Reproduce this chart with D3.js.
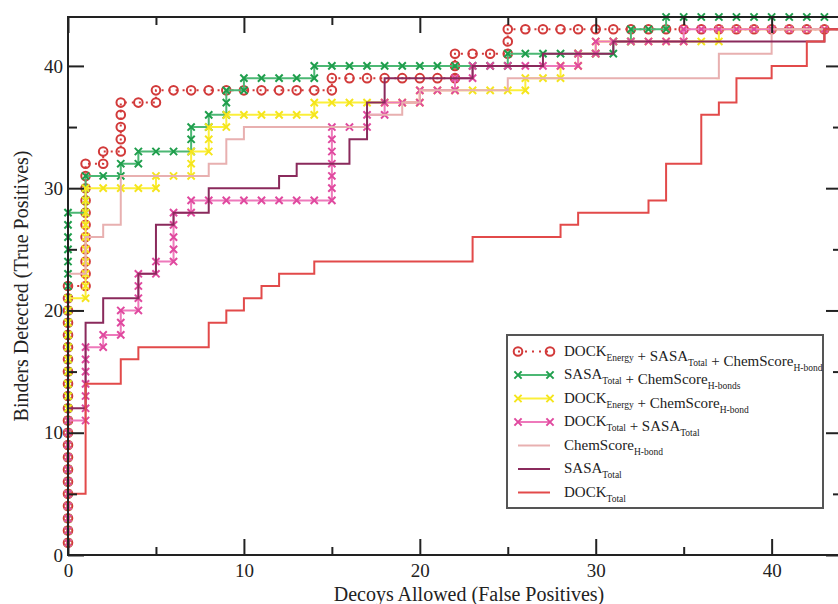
<!DOCTYPE html>
<html>
<head>
<meta charset="utf-8">
<script src="https://cdn.jsdelivr.net/npm/d3@7"></script>
<style>
  body { margin: 0; background: #fff; }
  svg { display: block; font-family: "Liberation Serif", "Times New Roman", serif; }
</style>
</head>
<body>
<div id="chart"></div>
<script>
const width = 838;
const height = 604;
const margin = { top: 17, right: -4, bottom: 49, left: 68 };

// ROC staircases, corner points [decoys, binders]
const dockSasaChem = [[0,1],[0,22],[1,22],[1,32],[2,32],[2,33],[3,33],[3,37],[5,37],[5,38],[15,38],[15,39],
    [22,39],[22,41],[25,41],[25,43],[44,43]];
const sasaChem = [[0,1],[0,28],[1,28],[1,31],[3,31],[3,32],[4,32],[4,33],[7,33],[7,35],[8,35],[8,36],[9,36],
    [9,38],[10,38],[10,39],[14,39],[14,40],[25,40],[25,41],[31,41],[31,42],[32,42],[32,43],[34,43],[34,44],[44,44]];
const dockChem = [[0,1],[0,21],[1,21],[1,30],[5,30],[5,31],[7,31],[7,33],[8,33],[8,35],[9,35],[9,36],[14,36],
    [14,37],[20,37],[20,38],[26,38],[26,39],[28,39],[28,40],[29,40],[29,41],[30,41],[30,42],[37,42],[37,43],[44,43]];
const dockSasa = [[0,1],[0,11],[1,11],[1,17],[2,17],[2,18],[3,18],[3,20],[4,20],[4,23],[5,23],[5,24],[6,24],
    [6,28],[7,28],[7,29],[15,29],[15,35],[17,35],[17,36],[18,36],[18,37],[20,37],[20,38],[22,38],[22,39],[23,39],
    [23,40],[29,40],[29,41],[30,41],[30,42],[35,42],[35,43],[44,43]];
const chemScore = [[0,0],[0,23],[1,23],[1,26],[2,26],[2,27],[3,27],[3,31],[8,31],[8,32],[9,32],[9,34],[10,34],
    [10,35],[17,35],[17,36],[19,36],[19,37],[20,37],[20,38],[25,38],[25,39],[37,39],[37,41],[40,41],[40,43],[44,43]];
const sasaTotal = [[0,0],[0,12],[1,12],[1,19],[2,19],[2,21],[4,21],[4,23],[5,23],[5,27],[6,27],[6,28],[8,28],
    [8,30],[12,30],[12,31],[13,31],[13,32],[16,32],[16,34],[17,34],[17,37],[18,37],[18,39],[23,39],[23,40],[27,40],
    [27,41],[31,41],[31,42],[43,42],[43,43],[44,43]];
const dockTotal = [[0,0],[0,5],[1,5],[1,14],[3,14],[3,16],[4,16],[4,17],[8,17],[8,19],[9,19],[9,20],[10,20],
    [10,21],[11,21],[11,22],[12,22],[12,23],[14,23],[14,24],[23,24],[23,26],[28,26],[28,27],[29,27],[29,28],
    [33,28],[33,29],[34,29],[34,32],[36,32],[36,36],[37,36],[37,37],[38,37],[38,39],[40,39],[40,40],[42,40],
    [42,42],[43,42],[43,43],[44,43]];

const xMajorTicks = [0, 10, 20, 30, 40];
const xMinorTicks = [5, 15, 25, 35];
const yMajorTicks = [0, 10, 20, 30, 40];
const yMinorTicks = [5, 15, 25, 35];

const series = [
    { data: dockSasaChem, color: "#d23a3a", marker: "circle", dash: "2,5", lines: [["DOCK", "Energy"], [" + SASA", "Total"], [" + ChemScore", "H-bond"]] },
    { data: sasaChem, color: "#1f9e4c", line: "#4cb874", marker: "cross", lines: [["SASA", "Total"], [" + ChemScore", "H-bonds"]] },
    { data: dockChem, color: "#f5e51c", line: "#fbef3a", marker: "cross", lines: [["DOCK", "Energy"], [" + ChemScore", "H-bond"]] },
    { data: dockSasa, color: "#e0499f", line: "#ee79bb", marker: "cross", lines: [["DOCK", "Total"], [" + SASA", "Total"]] },
    { data: chemScore, color: "#e8b0b0", lines: [["ChemScore", "H-bond"]] },
    { data: sasaTotal, color: "#8a2a5c", lines: [["SASA", "Total"]] },
    { data: dockTotal, color: "#e24a4a", lines: [["DOCK", "Total"]] }
];

const svg = d3.select("#chart").append("svg")
    .attr("width", width)
    .attr("height", height);

const x = d3.scaleLinear().domain([0, 44]).range([margin.left, width - margin.right]);
const y = d3.scaleLinear().domain([0, 44]).range([height - margin.bottom, margin.top]);

// every integer step along a staircase (one step per binder / decoy)
function steps(corners) {
    const pts = [];
    corners.forEach((c, i) => {
        if (i === 0) { pts.push(c); return; }
        const p = corners[i - 1];
        const n = Math.abs(c[0] - p[0]) + Math.abs(c[1] - p[1]);
        for (let k = 1; k <= n; k++) {
            pts.push([p[0] + (c[0] - p[0]) * k / n, p[1] + (c[1] - p[1]) * k / n]);
        }
    });
    return pts;
}

function drawMarker(g, type, cx, cy, color) {
    if (type === "circle") {
        g.append("circle")
            .attr("cx", cx).attr("cy", cy).attr("r", 4.3)
            .attr("fill", "none").attr("stroke", color).attr("stroke-width", 2);
    } else if (type === "cross") {
        const s = 3.6;
        g.append("path")
            .attr("d", `M${cx - s},${cy - s}L${cx + s},${cy + s}M${cx - s},${cy + s}L${cx + s},${cy - s}`)
            .attr("stroke", color).attr("stroke-width", 2).attr("fill", "none");
    }
}

const line = d3.line().x(d => x(d[0])).y(d => y(d[1]));

series.forEach(s => {
    const g = svg.append("g");
    g.append("path")
        .datum(s.data)
        .attr("d", line)
        .attr("fill", "none")
        .attr("stroke", s.line || s.color)
        .attr("stroke-width", 2)
        .attr("stroke-dasharray", s.dash || null);
    if (s.marker) {
        steps(s.data).filter(d => d[0] <= 43.5).forEach(d => drawMarker(g, s.marker, x(d[0]), y(d[1]), s.color));
    }
});

// frame
const axisColor = "#222";
svg.append("rect")
    .attr("x", x(0)).attr("y", y(44))
    .attr("width", x(44) - x(0)).attr("height", y(0) - y(44))
    .attr("fill", "none").attr("stroke", axisColor).attr("stroke-width", 2);

function styleAxis(g) {
    g.select(".domain").remove();
    g.selectAll(".tick line").attr("stroke", axisColor).attr("stroke-width", 2);
    g.selectAll(".tick text").attr("fill", "#222").style("font-size", "19px")
        .style("font-family", "'Liberation Serif', 'Times New Roman', serif");
}

svg.append("g").attr("transform", `translate(0,${y(0)})`)
    .call(d3.axisBottom(x).tickValues(xMajorTicks).tickSize(-16).tickPadding(9).tickFormat(d3.format("d")))
    .call(styleAxis);
svg.append("g").attr("transform", `translate(0,${y(0)})`)
    .call(d3.axisBottom(x).tickValues(xMinorTicks).tickSize(-8).tickFormat(""))
    .call(styleAxis);
svg.append("g").attr("transform", `translate(0,${y(44)})`)
    .call(d3.axisTop(x).tickValues(xMajorTicks).tickSize(-16).tickFormat(""))
    .call(styleAxis);
svg.append("g").attr("transform", `translate(0,${y(44)})`)
    .call(d3.axisTop(x).tickValues(xMinorTicks).tickSize(-8).tickFormat(""))
    .call(styleAxis);

svg.append("g").attr("transform", `translate(${x(0)},0)`)
    .call(d3.axisLeft(y).tickValues(yMajorTicks).tickSize(-16).tickPadding(5).tickFormat(d3.format("d")))
    .call(styleAxis);
svg.append("g").attr("transform", `translate(${x(0)},0)`)
    .call(d3.axisLeft(y).tickValues(yMinorTicks).tickSize(-9).tickFormat(""))
    .call(styleAxis);
svg.append("g").attr("transform", `translate(${x(44)},0)`)
    .call(d3.axisRight(y).tickValues(yMajorTicks).tickSize(-16).tickFormat(""))
    .call(styleAxis);
svg.append("g").attr("transform", `translate(${x(44)},0)`)
    .call(d3.axisRight(y).tickValues(yMinorTicks).tickSize(-9).tickFormat(""))
    .call(styleAxis);

// axis titles
svg.append("text")
    .attr("x", 469)
    .attr("y", 601)
    .attr("text-anchor", "middle")
    .style("font-size", "20px")
    .attr("fill", "#222")
    .text("Decoys Allowed (False Positives)");

svg.append("text")
    .attr("transform", "rotate(-90)")
    .attr("x", -286)
    .attr("y", 28)
    .attr("text-anchor", "middle")
    .style("font-size", "20px")
    .attr("fill", "#222")
    .text("Binders Detected (True Positives)");

// legend
const legend = svg.append("g");
legend.append("rect")
    .attr("x", 507).attr("y", 335).attr("width", 316).attr("height", 173)
    .attr("fill", "#fff").attr("stroke", "#555").attr("stroke-width", 2);

series.forEach((s, i) => {
    const cy = 351.5 + i * 23.5;
    legend.append("line")
        .attr("x1", 518).attr("x2", 550).attr("y1", cy).attr("y2", cy)
        .attr("stroke", s.line || s.color).attr("stroke-width", 2)
        .attr("stroke-dasharray", s.dash || null);
    if (s.marker) {
        drawMarker(legend, s.marker, 518, cy, s.color);
        drawMarker(legend, s.marker, 550, cy, s.color);
    }
    const t = legend.append("text")
        .attr("x", 564).attr("y", cy + 4)
        .style("font-size", "15px")
        .attr("fill", "#222");
    s.lines.forEach(part => {
        t.append("tspan").attr("dy", 0).text(part[0]);
        t.append("tspan").attr("dy", 5).style("font-size", "9.5px").text(part[1]);
        t.append("tspan").attr("dy", -5).text("");
    });
});
</script>
</body>
</html>
